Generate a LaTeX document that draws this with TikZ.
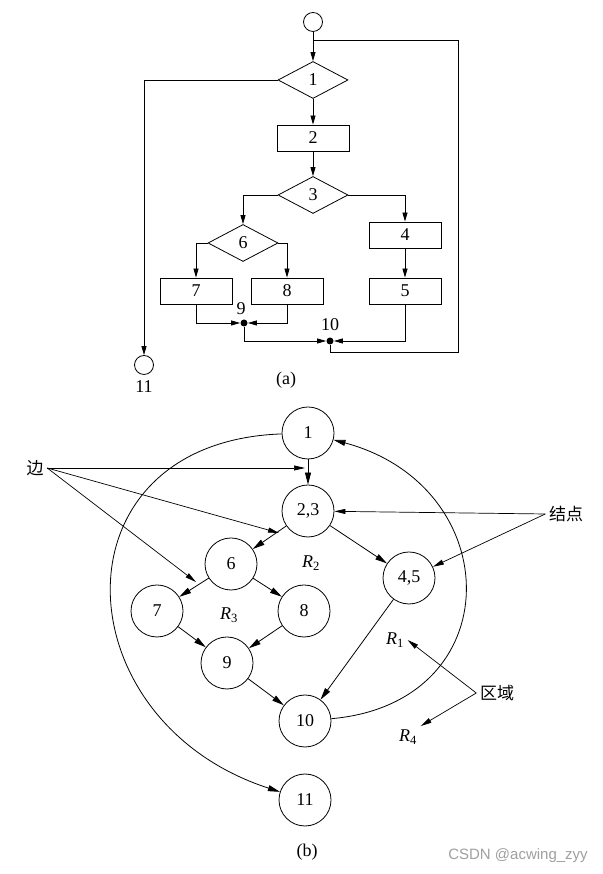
\documentclass[tikz,border=0pt]{standalone}
\usepackage{fontspec}
\setmainfont{Liberation Serif}
\newfontfamily\cjk{Noto Sans CJK SC}
\newfontfamily\wmfont{Liberation Sans}
\usetikzlibrary{arrows.meta,shapes.geometric}

\begin{document}
\begin{tikzpicture}[x=1pt,y=1pt,line width=0.8pt,font=\fontsize{18}{20}\selectfont,
    box/.style = {rectangle,draw,minimum width=72pt,minimum height=26pt,inner sep=0pt},
    dec/.style = {diamond,draw,aspect=2,minimum width=70pt,minimum height=37pt,inner sep=0pt},
    term/.style = {circle,draw,minimum size=19pt,inner sep=0pt},
    dot/.style = {circle,fill,minimum size=7pt,inner sep=0pt},
    vtx/.style = {circle,draw,minimum size=52pt,inner sep=0pt},
    cn/.style = {font={\fontsize{17}{19}\selectfont\cjk}},
    fa/.style = {-{Triangle[length=9pt,width=5pt]}},
    ga/.style = {-{Triangle[length=12pt,width=6pt]}},
    ta/.style = {line width=0.7pt,-{Triangle[length=11pt,width=5pt]}}]
    \useasboundingbox (0,0) rectangle (602,874);
    % (a) flow chart
    \node[term] (s) at (313,852) {};
    \foreach \i/\x/\y in {1/313/794,3/313/679,6/243/631} \node[dec] (d\i) at (\x,\y) {\i};
    \foreach \i/\x/\y in {2/313/736,4/405/639,5/405/583,7/196/583,8/287/583} \node[box] (r\i) at (\x,\y) {\i};
    \node[dot] (p9) at (244,551) {};
    \node[dot] (p10) at (330,533) {};
    \node[term] (c11) at (144,509) {};
    \node (l9) at (241,565) {9};
    \node (l10) at (330,549) {10};
    \node (l11) at (144,487) {11};
    \node (capa) at (286,494) {(a)};
    \draw[fa] (s) -- (d1);
    \draw[fa] (d1) -- (r2);
    \draw[fa] (r2) -- (d3);
    \draw[fa] (d3.west) -| (d6.north);
    \draw[fa] (d3.east) -| (r4.north);
    \draw[fa] (r4) -- (r5);
    \draw[fa] (d6.west) -| (r7.north);
    \draw[fa] (d6.east) -| (r8.north);
    \draw[fa] (r7.south) |- (p9);
    \draw[fa] (r8.south) |- (p9);
    \draw[fa] (p9) |- (p10);
    \draw[fa] (r5.south) |- (p10);
    \draw[fa] (d1.west) -| (c11.north);
    \coordinate (ret) at (458,522);
    \coordinate (top) at (458,834);
    \draw (p10) |- (ret) -- (top) -- (top -| s);
    % (b) flow graph
    \foreach \i/\x/\y in {1/308/441,6/231/310,7/157/263,8/304/263,9/227/211,10/305/153,11/305/74} \node[vtx] (v\i) at (\x,\y) {\i};
    \node[vtx] (v23) at (308,363) {2,3};
    \node[vtx] (v45) at (409,296) {4,5};
    \foreach \a/\b in {1/23,23/6,23/45,6/7,6/8,7/9,8/9,9/10,45/10} \draw[ga] (v\a) -- (v\b);
    \draw[ga] (v10) to[out=5,in=-15,looseness=1.65] (v1);
    \draw[ga] (v1) to[out=182,in=162,looseness=1.65] (v11);
    \node (R1) at (395,234) {\textit{R}\textsubscript{1}};
    \node (R2) at (311,311) {\textit{R}\textsubscript{2}};
    \node (R3) at (229,259) {\textit{R}\textsubscript{3}};
    \node (R4) at (408,137) {\textit{R}\textsubscript{4}};
    % notes
    \node[cn] (bian) at (35,406) {边};
    \node[cn] (jd) at (566,360) {结点};
    \node[cn] (qy) at (497,181) {区域};
    \coordinate (e1) at (305,406);
    \coordinate (e2) at (279,341);
    \coordinate (e3) at (196,292);
    \foreach \e in {e1,e2,e3} \draw[ta] (bian.east) -- (\e);
    \draw[ta] (jd.west) -- (v23);
    \draw[ta] (jd.west) -- (v45);
    \draw[ta] (qy.west) -- (R1.east);
    \draw[ta] (qy.west) -- (R4.north east);
    \node (capb) at (307,22) {(b)};
    \node[text=gray!75,font={\wmfont\fontsize{15}{17}\selectfont}] (wm) at (518,18) {CSDN @acwing\_zyy};
\end{tikzpicture}
\end{document}
